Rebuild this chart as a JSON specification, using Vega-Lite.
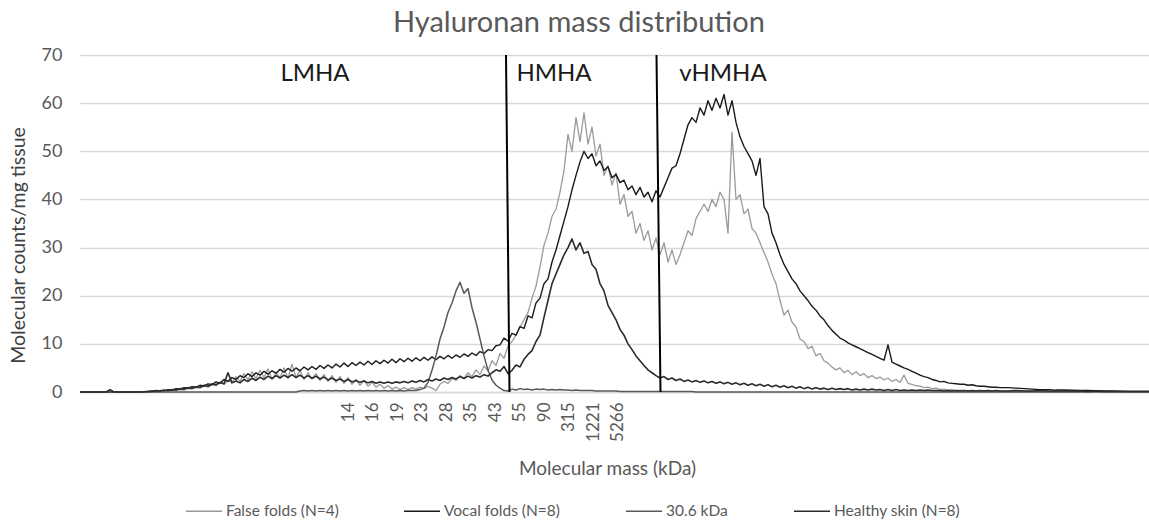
{
"$schema": "https://vega.github.io/schema/vega-lite/v6.json",
"width": 1069, "height": 337,
"autosize": {"type": "none"},
"padding": {"left": 80, "top": 55, "right": 0, "bottom": 133},
"background": "white",
"config": {
 "font": "Lato",
 "view": {"stroke": null},
 "legend": {"orient": "none", "legendX": 105, "legendY": 437, "direction": "horizontal", "title": null, "symbolType": "stroke", "symbolSize": 1300, "labelFontSize": 15.5, "labelColor": "#595959", "columnPadding": 62, "labelOffset": 3, "padding": 0}
},
"title": {"text": "Hyaluronan mass distribution", "fontSize": 29, "fontWeight": "normal", "color": "#595959", "frame": "bounds", "anchor": "middle", "offset": 8},
"layer": [
 {
  "data": {"values": [
{"x":0,"ff":0,"vf":0,"k":0,"hs":0},
{"x":26,"ff":0,"vf":0,"k":0,"hs":0},
{"x":30,"ff":0,"vf":0,"k":0,"hs":0.5},
{"x":34,"ff":0,"vf":0,"k":0,"hs":0},
{"x":60,"ff":0,"vf":0,"k":0,"hs":0},
{"x":68,"ff":0.1,"vf":0.1,"k":0,"hs":0.1},
{"x":72,"ff":0.1,"vf":0.2,"k":0,"hs":0.1},
{"x":76,"ff":0.2,"vf":0.1,"k":0,"hs":0.3},
{"x":80,"ff":0.1,"vf":0.3,"k":0,"hs":0.2},
{"x":84,"ff":0.3,"vf":0.2,"k":0,"hs":0.4},
{"x":88,"ff":0.2,"vf":0.5,"k":0,"hs":0.3},
{"x":92,"ff":0.4,"vf":0.4,"k":0,"hs":0.5},
{"x":96,"ff":0.3,"vf":0.7,"k":0,"hs":0.4},
{"x":100,"ff":0.5,"vf":0.6,"k":0,"hs":0.7},
{"x":104,"ff":0.4,"vf":0.9,"k":0,"hs":0.6},
{"x":108,"ff":0.7,"vf":0.8,"k":0,"hs":0.9},
{"x":112,"ff":0.6,"vf":1.1,"k":0,"hs":0.8},
{"x":116,"ff":0.9,"vf":1.0,"k":0,"hs":1.1},
{"x":120,"ff":0.8,"vf":1.4,"k":0,"hs":1.0},
{"x":124,"ff":1.2,"vf":1.2,"k":0,"hs":1.4},
{"x":128,"ff":1.0,"vf":1.7,"k":0,"hs":1.2},
{"x":132,"ff":1.5,"vf":1.5,"k":0,"hs":1.7},
{"x":136,"ff":1.3,"vf":2.1,"k":0,"hs":1.5},
{"x":140,"ff":2.0,"vf":1.8,"k":0,"hs":2.0},
{"x":144,"ff":1.6,"vf":2.6,"k":0,"hs":1.7},
{"x":148,"ff":2.4,"vf":2.2,"k":0,"hs":4.0},
{"x":152,"ff":2.0,"vf":3.0,"k":0,"hs":1.9},
{"x":156,"ff":3.2,"vf":2.6,"k":0,"hs":2.3},
{"x":160,"ff":2.2,"vf":3.4,"k":0,"hs":1.9},
{"x":164,"ff":3.8,"vf":3.0,"k":0,"hs":2.6},
{"x":168,"ff":2.5,"vf":3.8,"k":0,"hs":2.2},
{"x":172,"ff":4.2,"vf":3.2,"k":0,"hs":2.9},
{"x":176,"ff":2.8,"vf":4.0,"k":0,"hs":2.4},
{"x":180,"ff":4.5,"vf":3.5,"k":0,"hs":3.1},
{"x":184,"ff":3.0,"vf":4.3,"k":0,"hs":2.6},
{"x":188,"ff":4.8,"vf":3.7,"k":0,"hs":3.3},
{"x":192,"ff":2.6,"vf":4.4,"k":0,"hs":2.8},
{"x":196,"ff":4.0,"vf":3.9,"k":0,"hs":3.4},
{"x":200,"ff":3.0,"vf":4.7,"k":0,"hs":2.9},
{"x":204,"ff":5.0,"vf":4.1,"k":0,"hs":3.5},
{"x":208,"ff":2.8,"vf":4.9,"k":0,"hs":3.0},
{"x":212,"ff":5.8,"vf":4.3,"k":0,"hs":3.6},
{"x":216,"ff":3.0,"vf":5.0,"k":0,"hs":3.0},
{"x":220,"ff":4.5,"vf":4.4,"k":0.2,"hs":3.5},
{"x":224,"ff":2.6,"vf":5.2,"k":0.3,"hs":2.9},
{"x":228,"ff":4.0,"vf":4.6,"k":0.2,"hs":3.4},
{"x":232,"ff":2.8,"vf":5.3,"k":0.3,"hs":2.8},
{"x":236,"ff":3.8,"vf":4.7,"k":0.2,"hs":3.3},
{"x":240,"ff":2.4,"vf":5.5,"k":0.3,"hs":2.7},
{"x":244,"ff":3.6,"vf":4.9,"k":0.2,"hs":3.1},
{"x":248,"ff":2.2,"vf":5.6,"k":0.3,"hs":2.5},
{"x":252,"ff":3.4,"vf":5.0,"k":0.2,"hs":2.9},
{"x":256,"ff":2.0,"vf":5.8,"k":0.3,"hs":2.4},
{"x":260,"ff":3.2,"vf":5.2,"k":0.2,"hs":2.7},
{"x":264,"ff":1.8,"vf":6.0,"k":0.3,"hs":2.2},
{"x":268,"ff":3.0,"vf":5.3,"k":0.2,"hs":2.6},
{"x":272,"ff":1.6,"vf":6.1,"k":0.3,"hs":2.1},
{"x":276,"ff":2.6,"vf":5.5,"k":0.2,"hs":2.4},
{"x":280,"ff":1.4,"vf":6.2,"k":0.3,"hs":2.0},
{"x":284,"ff":2.4,"vf":5.6,"k":0.2,"hs":2.3},
{"x":288,"ff":1.2,"vf":6.4,"k":0.3,"hs":1.9},
{"x":292,"ff":2.0,"vf":5.7,"k":0.2,"hs":2.2},
{"x":296,"ff":1.0,"vf":6.5,"k":0.3,"hs":1.8},
{"x":300,"ff":1.6,"vf":5.9,"k":0.2,"hs":2.1},
{"x":304,"ff":0.8,"vf":6.6,"k":0.3,"hs":1.8},
{"x":308,"ff":1.3,"vf":6.0,"k":0.2,"hs":2.1},
{"x":312,"ff":0.6,"vf":6.8,"k":0.3,"hs":1.8},
{"x":316,"ff":1.0,"vf":6.1,"k":0.2,"hs":2.1},
{"x":320,"ff":0.5,"vf":6.9,"k":0.3,"hs":1.9},
{"x":324,"ff":0.9,"vf":6.3,"k":0.2,"hs":2.2},
{"x":328,"ff":0.5,"vf":7.0,"k":0.3,"hs":1.9},
{"x":332,"ff":0.9,"vf":6.4,"k":0.3,"hs":2.3},
{"x":336,"ff":0.6,"vf":7.1,"k":0.3,"hs":2.0},
{"x":340,"ff":1.0,"vf":6.5,"k":0.5,"hs":2.4},
{"x":344,"ff":0.7,"vf":7.2,"k":0.8,"hs":2.1},
{"x":348,"ff":1.2,"vf":6.6,"k":2.0,"hs":2.6},
{"x":352,"ff":0.8,"vf":7.3,"k":4.5,"hs":2.3},
{"x":356,"ff":0.3,"vf":6.7,"k":7.5,"hs":2.7},
{"x":360,"ff":1.6,"vf":7.4,"k":11.0,"hs":2.4},
{"x":364,"ff":2.2,"vf":6.9,"k":13.5,"hs":2.9},
{"x":368,"ff":1.8,"vf":7.6,"k":16.5,"hs":2.6},
{"x":372,"ff":2.8,"vf":7.0,"k":18.5,"hs":3.0},
{"x":376,"ff":2.4,"vf":7.7,"k":21.0,"hs":2.7},
{"x":380,"ff":3.4,"vf":7.2,"k":22.8,"hs":3.2},
{"x":384,"ff":2.8,"vf":7.9,"k":20.5,"hs":2.8},
{"x":388,"ff":4.0,"vf":7.4,"k":21.5,"hs":3.3},
{"x":392,"ff":3.2,"vf":8.1,"k":17.5,"hs":2.9},
{"x":396,"ff":4.6,"vf":7.6,"k":14.5,"hs":3.4},
{"x":400,"ff":3.6,"vf":8.4,"k":11.0,"hs":3.1},
{"x":404,"ff":5.4,"vf":8.0,"k":7.5,"hs":3.6},
{"x":408,"ff":4.4,"vf":8.8,"k":4.5,"hs":3.3},
{"x":412,"ff":6.5,"vf":8.6,"k":2.5,"hs":4.0},
{"x":416,"ff":5.5,"vf":9.6,"k":1.4,"hs":4.6},
{"x":420,"ff":8.0,"vf":9.8,"k":0.8,"hs":4.3},
{"x":424,"ff":7.0,"vf":11.2,"k":0.3,"hs":5.3},
{"x":428,"ff":9.5,"vf":10.6,"k":0.2,"hs":3.8},
{"x":432,"ff":10.5,"vf":12.2,"k":0.6,"hs":4.5},
{"x":436,"ff":11.8,"vf":11.8,"k":0.4,"hs":5.6},
{"x":440,"ff":13.5,"vf":13.6,"k":0.7,"hs":5.2},
{"x":444,"ff":15.0,"vf":13.2,"k":0.5,"hs":6.8},
{"x":448,"ff":16.5,"vf":15.8,"k":0.6,"hs":7.8},
{"x":452,"ff":19.5,"vf":15.4,"k":0.4,"hs":8.6},
{"x":456,"ff":22.0,"vf":18.5,"k":0.6,"hs":10.5},
{"x":460,"ff":26.0,"vf":19.5,"k":0.5,"hs":11.8},
{"x":464,"ff":30.5,"vf":22.5,"k":0.6,"hs":15.5},
{"x":468,"ff":33.0,"vf":23.5,"k":0.4,"hs":19.0},
{"x":472,"ff":36.5,"vf":27.0,"k":0.5,"hs":22.5},
{"x":476,"ff":38.0,"vf":29.5,"k":0.4,"hs":24.5},
{"x":480,"ff":41.5,"vf":32.5,"k":0.5,"hs":26.5},
{"x":484,"ff":46.0,"vf":35.5,"k":0.4,"hs":28.5},
{"x":488,"ff":53.5,"vf":38.5,"k":0.4,"hs":30.0},
{"x":492,"ff":50.0,"vf":42.0,"k":0.3,"hs":31.8},
{"x":496,"ff":57.0,"vf":45.0,"k":0.4,"hs":29.5},
{"x":500,"ff":52.0,"vf":47.8,"k":0.3,"hs":31.0},
{"x":504,"ff":58.0,"vf":50.0,"k":0.3,"hs":28.8},
{"x":508,"ff":51.5,"vf":48.5,"k":0.3,"hs":29.2},
{"x":512,"ff":55.0,"vf":49.5,"k":0.3,"hs":26.5},
{"x":516,"ff":49.0,"vf":47.0,"k":0.2,"hs":25.5},
{"x":520,"ff":51.5,"vf":48.0,"k":0.2,"hs":22.5},
{"x":524,"ff":45.0,"vf":46.0,"k":0.2,"hs":21.0},
{"x":528,"ff":47.0,"vf":46.8,"k":0.2,"hs":18.0},
{"x":532,"ff":43.0,"vf":44.5,"k":0.2,"hs":16.5},
{"x":536,"ff":45.5,"vf":45.2,"k":0.2,"hs":15.0},
{"x":540,"ff":39.0,"vf":43.5,"k":0.1,"hs":13.0},
{"x":544,"ff":41.0,"vf":44.0,"k":0.1,"hs":11.8},
{"x":548,"ff":36.5,"vf":42.0,"k":0.1,"hs":10.0},
{"x":552,"ff":37.5,"vf":42.8,"k":0.1,"hs":8.8},
{"x":556,"ff":33.0,"vf":41.0,"k":0.1,"hs":7.5},
{"x":560,"ff":35.0,"vf":42.5,"k":0.1,"hs":6.5},
{"x":564,"ff":31.5,"vf":40.5,"k":0.1,"hs":5.5},
{"x":568,"ff":33.5,"vf":41.5,"k":0.1,"hs":4.6},
{"x":572,"ff":29.5,"vf":39.5,"k":0.1,"hs":4.0},
{"x":576,"ff":32.0,"vf":41.8,"k":0.1,"hs":3.4},
{"x":580,"ff":28.5,"vf":40.5,"k":0.1,"hs":2.9},
{"x":584,"ff":31.0,"vf":42.5,"k":0.1,"hs":3.2},
{"x":588,"ff":27.0,"vf":44.5,"k":0.1,"hs":2.6},
{"x":592,"ff":29.5,"vf":46.5,"k":0.1,"hs":2.9},
{"x":596,"ff":26.5,"vf":47.0,"k":0.1,"hs":2.4},
{"x":600,"ff":28.5,"vf":49.5,"k":0.1,"hs":2.7},
{"x":604,"ff":31.0,"vf":52.5,"k":0.1,"hs":2.2},
{"x":608,"ff":33.5,"vf":55.5,"k":0.1,"hs":2.5},
{"x":612,"ff":32.5,"vf":57.0,"k":0.1,"hs":2.1},
{"x":616,"ff":36.0,"vf":56.0,"k":0,"hs":2.4},
{"x":620,"ff":37.5,"vf":59.0,"k":0,"hs":2.0},
{"x":624,"ff":39.0,"vf":57.5,"k":0,"hs":2.3},
{"x":628,"ff":37.5,"vf":60.5,"k":0,"hs":1.9},
{"x":632,"ff":40.0,"vf":58.5,"k":0,"hs":2.2},
{"x":636,"ff":38.5,"vf":61.0,"k":0,"hs":1.8},
{"x":640,"ff":41.5,"vf":59.0,"k":0,"hs":2.1},
{"x":644,"ff":40.0,"vf":61.8,"k":0,"hs":1.7},
{"x":648,"ff":33.0,"vf":57.5,"k":0,"hs":2.0},
{"x":652,"ff":54.0,"vf":60.5,"k":0,"hs":1.6},
{"x":656,"ff":40.0,"vf":56.0,"k":0,"hs":1.9},
{"x":660,"ff":41.0,"vf":53.0,"k":0,"hs":1.5},
{"x":664,"ff":37.0,"vf":51.0,"k":0,"hs":1.8},
{"x":668,"ff":38.0,"vf":49.5,"k":0,"hs":1.4},
{"x":672,"ff":34.0,"vf":48.0,"k":0,"hs":1.7},
{"x":676,"ff":33.0,"vf":45.0,"k":0,"hs":1.3},
{"x":680,"ff":31.0,"vf":48.5,"k":0,"hs":1.6},
{"x":684,"ff":29.0,"vf":38.5,"k":0,"hs":1.2},
{"x":688,"ff":27.0,"vf":37.0,"k":0,"hs":1.5},
{"x":692,"ff":24.5,"vf":33.0,"k":0,"hs":1.1},
{"x":696,"ff":22.5,"vf":31.0,"k":0,"hs":1.4},
{"x":700,"ff":19.0,"vf":28.5,"k":0,"hs":1.0},
{"x":704,"ff":16.0,"vf":26.5,"k":0,"hs":1.3},
{"x":708,"ff":17.0,"vf":25.0,"k":0,"hs":0.9},
{"x":712,"ff":14.5,"vf":23.5,"k":0,"hs":1.2},
{"x":716,"ff":13.5,"vf":22.5,"k":0,"hs":0.8},
{"x":720,"ff":11.0,"vf":21.0,"k":0,"hs":1.1},
{"x":724,"ff":10.5,"vf":20.0,"k":0,"hs":0.7},
{"x":728,"ff":9.0,"vf":19.0,"k":0,"hs":1.0},
{"x":732,"ff":9.5,"vf":17.8,"k":0,"hs":0.6},
{"x":736,"ff":7.5,"vf":17.0,"k":0,"hs":0.9},
{"x":740,"ff":8.0,"vf":15.8,"k":0,"hs":0.6},
{"x":744,"ff":6.5,"vf":15.0,"k":0,"hs":0.8},
{"x":748,"ff":6.0,"vf":13.8,"k":0,"hs":0.5},
{"x":752,"ff":5.2,"vf":12.8,"k":0,"hs":0.8},
{"x":756,"ff":4.6,"vf":12.0,"k":0,"hs":0.5},
{"x":760,"ff":5.0,"vf":11.2,"k":0,"hs":0.7},
{"x":764,"ff":4.0,"vf":10.8,"k":0,"hs":0.5},
{"x":768,"ff":4.5,"vf":10.2,"k":0,"hs":0.7},
{"x":772,"ff":3.6,"vf":9.8,"k":0,"hs":0.4},
{"x":776,"ff":4.2,"vf":9.4,"k":0,"hs":0.6},
{"x":780,"ff":3.4,"vf":9.0,"k":0,"hs":0.4},
{"x":784,"ff":3.8,"vf":8.6,"k":0,"hs":0.6},
{"x":788,"ff":3.0,"vf":8.2,"k":0,"hs":0.4},
{"x":792,"ff":3.4,"vf":7.8,"k":0,"hs":0.6},
{"x":796,"ff":2.8,"vf":7.4,"k":0,"hs":0.4},
{"x":800,"ff":3.1,"vf":7.0,"k":0,"hs":0.5},
{"x":804,"ff":2.5,"vf":6.6,"k":0,"hs":0.3},
{"x":808,"ff":2.9,"vf":9.8,"k":0,"hs":0.5},
{"x":812,"ff":2.2,"vf":6.2,"k":0,"hs":0.3},
{"x":816,"ff":2.6,"vf":5.8,"k":0,"hs":0.5},
{"x":820,"ff":2.0,"vf":5.4,"k":0,"hs":0.3},
{"x":824,"ff":3.5,"vf":5.0,"k":0,"hs":0.4},
{"x":828,"ff":1.8,"vf":4.7,"k":0,"hs":0.3},
{"x":832,"ff":1.6,"vf":4.3,"k":0,"hs":0.4},
{"x":836,"ff":1.3,"vf":3.9,"k":0,"hs":0.3},
{"x":840,"ff":1.2,"vf":3.5,"k":0,"hs":0.4},
{"x":844,"ff":0.9,"vf":3.2,"k":0,"hs":0.3},
{"x":848,"ff":1.0,"vf":3.0,"k":0,"hs":0.4},
{"x":852,"ff":0.7,"vf":2.6,"k":0,"hs":0.3},
{"x":856,"ff":0.8,"vf":2.4,"k":0,"hs":0.3},
{"x":860,"ff":0.5,"vf":2.1,"k":0,"hs":0.3},
{"x":864,"ff":0.6,"vf":2.2,"k":0,"hs":0.2},
{"x":868,"ff":0.4,"vf":1.9,"k":0,"hs":0.3},
{"x":872,"ff":0.5,"vf":1.8,"k":0,"hs":0.2},
{"x":876,"ff":0.3,"vf":1.7,"k":0,"hs":0.3},
{"x":880,"ff":0.4,"vf":1.6,"k":0,"hs":0.2},
{"x":884,"ff":0.3,"vf":1.6,"k":0,"hs":0.3},
{"x":888,"ff":0.3,"vf":1.4,"k":0,"hs":0.2},
{"x":892,"ff":0.2,"vf":1.5,"k":0,"hs":0.3},
{"x":896,"ff":0.3,"vf":1.3,"k":0,"hs":0.2},
{"x":900,"ff":0.2,"vf":1.2,"k":0,"hs":0.3},
{"x":904,"ff":0.3,"vf":1.2,"k":0,"hs":0.2},
{"x":908,"ff":0.2,"vf":1.1,"k":0,"hs":0.3},
{"x":912,"ff":0.2,"vf":1.0,"k":0,"hs":0.2},
{"x":916,"ff":0.2,"vf":1.0,"k":0,"hs":0.3},
{"x":920,"ff":0.2,"vf":0.9,"k":0,"hs":0.2},
{"x":928,"ff":0.1,"vf":0.9,"k":0,"hs":0.2},
{"x":936,"ff":0.2,"vf":0.8,"k":0,"hs":0.3},
{"x":944,"ff":0.1,"vf":0.7,"k":0,"hs":0.2},
{"x":952,"ff":0.2,"vf":0.6,"k":0,"hs":0.2},
{"x":960,"ff":0.1,"vf":0.5,"k":0,"hs":0.3},
{"x":968,"ff":0.1,"vf":0.5,"k":0,"hs":0.2},
{"x":976,"ff":0.1,"vf":0.4,"k":0,"hs":0.2},
{"x":984,"ff":0.1,"vf":0.4,"k":0,"hs":0.2},
{"x":992,"ff":0.1,"vf":0.35,"k":0,"hs":0.2},
{"x":1000,"ff":0.1,"vf":0.3,"k":0,"hs":0.2},
{"x":1008,"ff":0.1,"vf":0.3,"k":0,"hs":0.1},
{"x":1016,"ff":0.1,"vf":0.25,"k":0,"hs":0.2},
{"x":1024,"ff":0.1,"vf":0.2,"k":0,"hs":0.1},
{"x":1032,"ff":0.1,"vf":0.2,"k":0,"hs":0.1},
{"x":1040,"ff":0.1,"vf":0.15,"k":0,"hs":0.1},
{"x":1048,"ff":0.1,"vf":0.1,"k":0,"hs":0.1},
{"x":1056,"ff":0.1,"vf":0.1,"k":0,"hs":0.1},
{"x":1064,"ff":0.1,"vf":0.1,"k":0,"hs":0.1},
{"x":1069,"ff":0.1,"vf":0.1,"k":0,"hs":0.1}
  ]},
  "transform": [{"fold": ["ff", "vf", "k", "hs"], "as": ["series", "count"]}],
  "mark": {"type": "line", "strokeJoin": "round"},
  "encoding": {
   "x": {"field": "x", "type": "quantitative", "title": "Molecular mass (kDa)",
     "scale": {"domain": [0, 1069], "nice": false, "zero": false},
     "axis": {"values": [268, 292.5, 317, 341.5, 366, 390.5, 415, 439.5, 464, 488.5, 513, 537.5],
       "labelExpr": "{'268':'14','292.5':'16','317':'19','341.5':'23','366':'28','390.5':'35','415':'43','439.5':'55','464':'90','488.5':'315','513':'1221','537.5':'5266'}[datum.value]",
       "labelAngle": -90, "grid": false, "ticks": false, "tickSize": 0, "domain": true, "domainColor": "#d9d9d9", "domainWidth": 1.3,
       "labelFontSize": 17, "labelColor": "#595959", "labelPadding": 10, "labelOverlap": false, "labelFlush": false, "labelBound": false,
       "titleFontSize": 19, "titleColor": "#595959", "titleFontWeight": "normal", "titleX": 527, "titleY": 76, "titleBaseline": "middle", "titleAlign": "center"}},
   "y": {"field": "count", "type": "quantitative", "title": "Molecular counts/mg tissue",
     "scale": {"domain": [0, 70], "nice": false},
     "axis": {"values": [0, 10, 20, 30, 40, 50, 60, 70], "grid": true, "gridColor": "#d9d9d9", "gridWidth": 1.3, "domain": false, "ticks": false, "tickSize": 0,
       "labelFontSize": 18, "labelColor": "#595959", "labelPadding": 18,
       "titleFontSize": 19.5, "titleColor": "#404040", "titleFontWeight": "normal", "titleX": -62, "titleY": 190, "titleBaseline": "middle", "titleAngle": -90, "titleAlign": "center"}},
   "color": {"field": "series", "type": "nominal", "scale": {"domain": ["ff", "vf", "k", "hs"], "range": ["#9a9a9a", "#1a1a1a", "#595959", "#2b2b2b"]},
     "legend": {"labelExpr": "{'ff':'False folds (N=4)','vf':'Vocal folds (N=8)','k':'30.6 kDa','hs':'Healthy skin (N=8)'}[datum.label]"}},
   "strokeWidth": {"field": "series", "type": "nominal", "scale": {"domain": ["ff", "vf", "k", "hs"], "range": [1.3, 1.6, 2.4, 2.9]},
     "legend": {"labelExpr": "{'ff':'False folds (N=4)','vf':'Vocal folds (N=8)','k':'30.6 kDa','hs':'Healthy skin (N=8)'}[datum.label]"}}
  }
 },
 {
  "data": {"values": [{"a": 426, "b": 429.5, "top": 70, "bot": 0}, {"a": 576.5, "b": 580.5, "top": 70, "bot": 0}]},
  "mark": {"type": "rule", "color": "#000000", "strokeWidth": 2},
  "encoding": {
   "x": {"field": "a", "type": "quantitative", "title": "Molecular mass (kDa)"},
   "x2": {"field": "b"},
   "y": {"field": "top", "type": "quantitative", "title": "Molecular counts/mg tissue"},
   "y2": {"field": "bot"}
  }
 },
 {
  "data": {"values": [{"px": 235, "py": 66, "t": "LMHA"}, {"px": 474, "py": 66, "t": "HMHA"}, {"px": 643, "py": 66, "t": "vHMHA"}]},
  "mark": {"type": "text", "fontSize": 24, "color": "#1a1a1a", "align": "center", "baseline": "middle"},
  "encoding": {
   "x": {"field": "px", "type": "quantitative", "title": "Molecular mass (kDa)"},
   "y": {"field": "py", "type": "quantitative", "title": "Molecular counts/mg tissue"},
   "text": {"field": "t"}
  }
 }
]
}
